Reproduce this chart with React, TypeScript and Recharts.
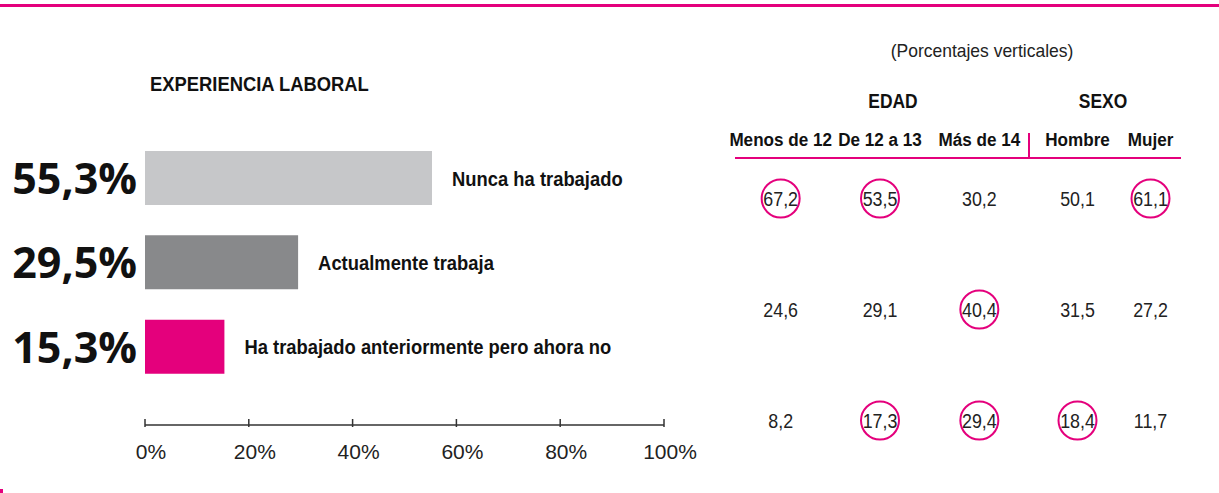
import React from 'react';
import {
  BarChart, Bar, XAxis, YAxis, Cell, LabelList, ScatterChart, Scatter, Label,
} from 'recharts';

// categories shared by the bars and the table rows
const categories = ['Nunca ha trabajado', 'Actualmente trabaja', 'Ha trabajado anteriormente pero ahora no'];
const totals = [55.3, 29.5, 15.3];
const barColors = ['#c6c7c9', '#88898b', '#e4007c'];
const xTicks = [0, 20, 40, 60, 80, 100];

// table (porcentajes verticales)
const edadGroups = ['Menos de 12', 'De 12 a 13', 'Más de 14'];
const sexoGroups = ['Hombre', 'Mujer'];
const menosDe12 = [67.2, 24.6, 8.2];
const de12a13 = [53.5, 29.1, 17.3];
const masDe14 = [30.2, 40.4, 29.4];
const hombre = [50.1, 31.5, 18.4];
const mujer = [61.1, 27.2, 11.7];
const circledMenos = [true, false, false];
const circledDe12 = [true, false, true];
const circledMas = [false, true, true];
const circledHombre = [false, false, true];
const circledMujer = [true, false, false];

const PINK = '#e4007c';
const SANS = '"Liberation Sans", Arial, sans-serif';
const WIDE_BOLD = '"Open Sans", "Liberation Sans", sans-serif';

const fmt = (v: number) => v.toFixed(1).replace('.', ',');

const barData = categories.map((name, i) => ({ name, value: totals[i] }));

const buildRows = (groups: string[], series: number[][], circled: boolean[][]) => {
  const rows: { col: string; row: string; value: number; circled: boolean }[] = [];
  groups.forEach((g, gi) => {
    categories.forEach((c, ri) => {
      rows.push({ col: g, row: c, value: series[gi][ri], circled: circled[gi][ri] });
    });
  });
  return rows;
};

const edadData = buildRows(edadGroups, [menosDe12, de12a13, masDe14], [circledMenos, circledDe12, circledMas]);
const sexoData = buildRows(sexoGroups, [hombre, mujer], [circledHombre, circledMujer]);

// no narrow font installed, so squeeze Liberation Sans horizontally
const NarrowText = ({ x, y, sx, anchor = 'start', size, bold = false, fill = '#111', children }: any) => (
  <text transform={`translate(${x} ${y}) scale(${sx} 1)`} textAnchor={anchor} fontFamily={SANS}
    fontWeight={bold ? 'bold' : 'normal'} fontSize={size} fill={fill}>
    {children}
  </text>
);

const AxisTick = (props: any) => {
  const { x, y, payload } = props;
  return (
    <g>
      <line x1={x} y1={y - 8} x2={x} y2={y} stroke="#333" strokeWidth={1.5} />
      <NarrowText x={x + 6} y={y + 32} sx={1} anchor="middle" size={21} fill="#222">
        {`${payload.value}%`}
      </NarrowText>
    </g>
  );
};

const HeaderTick = (props: any) => {
  const { x, y, payload } = props;
  return (
    <NarrowText x={x} y={y} sx={0.9} anchor="middle" size={19} bold>
      {payload.value}
    </NarrowText>
  );
};

const ValueShape = (props: any) => {
  const { cx, cy, payload } = props;
  return (
    <g>
      {payload.circled && <circle cx={cx} cy={cy} r={19} fill="none" stroke={PINK} strokeWidth={2} />}
      <NarrowText x={cx} y={cy + 7.5} sx={0.85} anchor="middle" size={21} fill="#222">
        {fmt(payload.value)}
      </NarrowText>
    </g>
  );
};

const GroupLabel = (dx: number, text: string) => (props: any) => {
  const vb = props.viewBox;
  return (
    <NarrowText x={vb.x + vb.width / 2 + dx} y={vb.y} sx={0.87} anchor="middle" size={20} bold>
      {text}
    </NarrowText>
  );
};

export default function App() {
  return (
    <div style={{ position: 'absolute', left: 0, top: 0, width: 1219, height: 493, background: '#fff', overflow: 'hidden' }}>
      <div style={{ position: 'absolute', left: 0, top: 4, width: 1219, height: 3, background: PINK }} />
      <div style={{ position: 'absolute', left: 0, top: 489, width: 3, height: 4, background: PINK }} />
      <div style={{ position: 'absolute', left: 150, top: 72, fontFamily: SANS, fontWeight: 'bold', fontSize: 21, color: '#111',
        whiteSpace: 'nowrap', transform: 'scaleX(0.875)', transformOrigin: 'left center' }}>
        EXPERIENCIA LABORAL
      </div>
      <div style={{ position: 'absolute', left: 882, width: 200, top: 40, textAlign: 'center', fontFamily: SANS, fontSize: 19, color: '#222',
        whiteSpace: 'nowrap', transform: 'scaleX(0.92)', transformOrigin: 'center center' }}>
        (Porcentajes verticales)
      </div>
      <div style={{ position: 'absolute', left: 1028, top: 133, width: 2, height: 26, background: PINK }} />

      <div style={{ position: 'absolute', left: 0, top: 0 }}>
        <BarChart width={720} height={493} data={barData} layout="vertical"
          margin={{ top: 136, right: 56, left: 145, bottom: 28 }}>
          <XAxis type="number" domain={[0, 100]} ticks={xTicks} height={40}
            axisLine={{ stroke: '#333', strokeWidth: 1.5 }} tickLine={false} tickSize={0} tick={<AxisTick />} />
          <YAxis type="category" dataKey="name" hide padding={{ top: 0, bottom: 36 }} />
          <Bar dataKey="value" barSize={54} isAnimationActive={false}>
            {barData.map((d, i) => <Cell key={d.name} fill={barColors[i]} />)}
            <LabelList dataKey="name" content={(p: any) => (
              <NarrowText x={p.x + p.width + 20} y={p.y + p.height / 2 + 7.5} sx={0.92} size={20} bold>
                {p.value}
              </NarrowText>
            )} />
            <LabelList dataKey="value" content={(p: any) => (
              <text x={p.x - 8} y={p.y + p.height / 2 + 16} textAnchor="end" fontFamily={WIDE_BOLD} fontWeight="bold" fontSize={43} fill="#111">
                {`${fmt(p.value)}%`}
              </text>
            )} />
          </Bar>
        </BarChart>
      </div>

      <div style={{ position: 'absolute', left: 700, top: 0 }}>
        <ScatterChart width={340} height={493} margin={{ top: 108, right: 11, left: 35, bottom: 45 }}>
          <XAxis type="category" dataKey="col" orientation="top" height={50} allowDuplicatedCategory={false}
            padding={{ left: -4, right: 0 }}
            axisLine={{ stroke: PINK, strokeWidth: 2 }} tickLine={false} tickSize={0} tickMargin={12} tick={<HeaderTick />}>
            <Label position="top" offset={0} content={GroupLabel(11, 'EDAD')} />
          </XAxis>
          <YAxis type="category" dataKey="row" hide reversed allowDuplicatedCategory={false}
            padding={{ top: -15, bottom: -28 }} />
          <Scatter data={edadData} shape={<ValueShape />} isAnimationActive={false} />
        </ScatterChart>
      </div>

      <div style={{ position: 'absolute', left: 1000, top: 0 }}>
        <ScatterChart width={219} height={493} margin={{ top: 108, right: 38, left: 29, bottom: 45 }}>
          <XAxis type="category" dataKey="col" orientation="top" height={50} allowDuplicatedCategory={false}
            padding={{ left: 12, right: -6 }}
            axisLine={{ stroke: PINK, strokeWidth: 2 }} tickLine={false} tickSize={0} tickMargin={12} tick={<HeaderTick />}>
            <Label position="top" offset={0} content={GroupLabel(-2, 'SEXO')} />
          </XAxis>
          <YAxis type="category" dataKey="row" width={0} reversed allowDuplicatedCategory={false}
            padding={{ top: -15, bottom: -28 }}
            axisLine={{ stroke: PINK, strokeWidth: 2 }} tick={false} tickLine={false} />
          <Scatter data={sexoData} shape={<ValueShape />} isAnimationActive={false} />
        </ScatterChart>
      </div>
    </div>
  );
}
